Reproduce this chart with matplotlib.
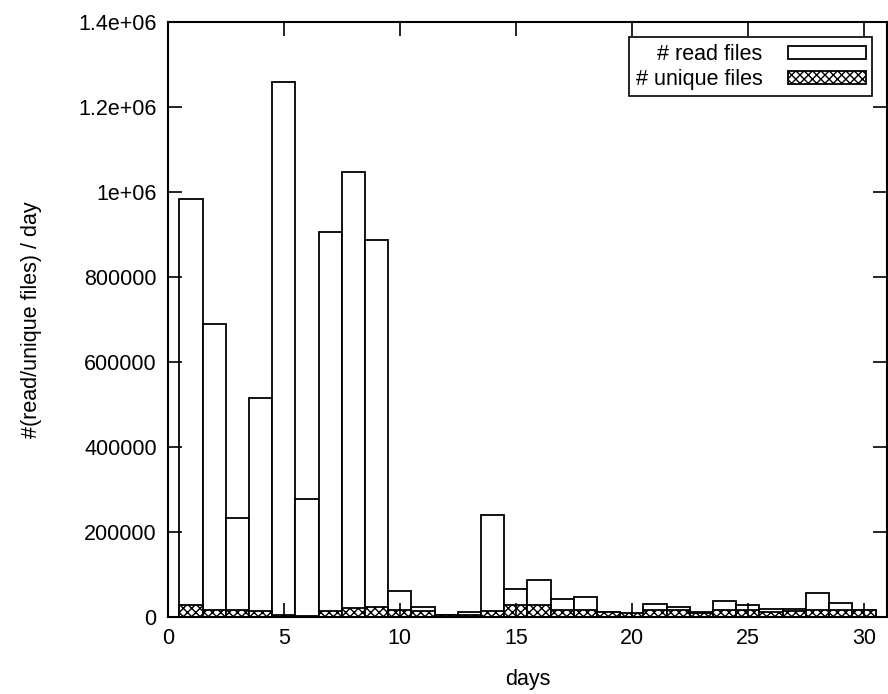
import numpy as np
import matplotlib.pyplot as plt

plt.rcParams['font.family'] = ['Liberation Sans', 'DejaVu Sans']
plt.rcParams['hatch.linewidth'] = 1.0

days = np.arange(1, 31)
read_files = [985000, 689000, 233000, 515000, 1259000, 278000, 906000, 1047000, 887000, 61000,
              23000, 5000, 12000, 241000, 65000, 87000, 42000, 47000, 12000, 5000,
              31000, 24000, 12000, 38000, 28000, 19000, 19000, 56000, 33000, 16000]
unique_files = [28000, 16000, 16000, 14000, 5000, 3000, 14000, 21000, 24000, 16000,
                15000, 4000, 4000, 14000, 28000, 28000, 17000, 16000, 11000, 9000,
                16000, 16000, 9000, 16000, 16000, 11000, 14000, 16000, 16000, 16000]

fig = plt.figure(figsize=(8.88, 6.94), dpi=100)
ax = fig.add_axes([0.189, 0.111, 0.81, 0.857])

ax.bar(days, read_files, width=1.0, color='white', edgecolor='black', linewidth=1.3,
       label='# read files')
ax.bar(days, unique_files, width=1.0, color='white', edgecolor='black', linewidth=1.3,
       hatch='xxxx', label='# unique files')

ax.set_xlim(0, 31)
ax.set_ylim(0, 1.4e6)
ax.set_xticks([0, 5, 10, 15, 20, 25, 30])
yt = [0, 200000, 400000, 600000, 800000, 1000000, 1200000, 1400000]
ax.set_yticks(yt)
ax.set_yticklabels(['0', '200000', '400000', '600000', '800000', '1e+06', '1.2e+06', '1.4e+06'])

ax.tick_params(direction='in', length=10, width=1.2, top=True, right=True,
               labelsize=15.5, pad=8)
for s in ax.spines.values():
    s.set_linewidth(1.5)

ax.set_xlabel('days', fontsize=15.5, labelpad=14)
ax.set_ylabel('#(read/unique files) / day', fontsize=15.5, labelpad=26)

leg = ax.legend(loc='upper right', markerfirst=False, fontsize=15.5, frameon=True,
                fancybox=False, edgecolor='black', framealpha=1,
                handlelength=3.6, handleheight=0.55, borderpad=0.3,
                labelspacing=0.2, borderaxespad=0.7, handletextpad=1.2)
leg.get_frame().set_linewidth(1.2)

fig.savefig('out.png', dpi=100)
